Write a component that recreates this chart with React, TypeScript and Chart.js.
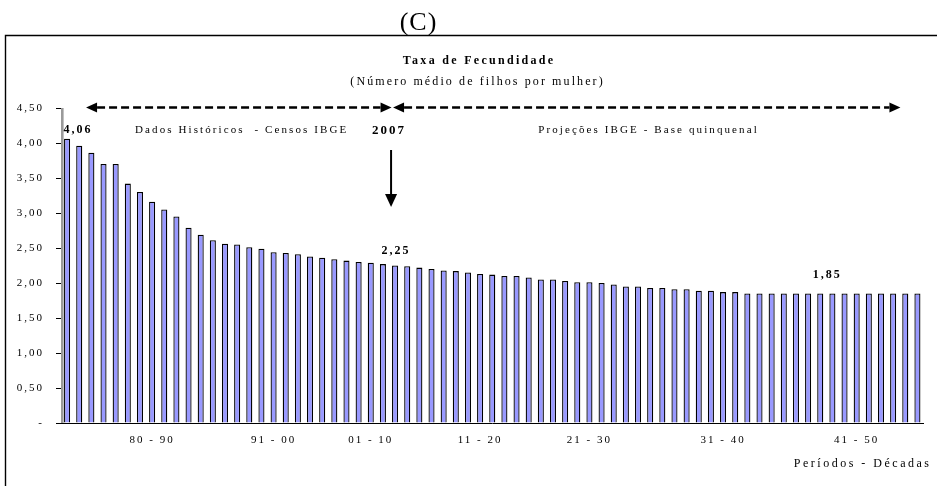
import React, { useEffect, useRef } from 'react';
import { Chart, registerables } from 'chart.js';

Chart.register(...registerables);

const years = [
  1980, 1981, 1982, 1983, 1984, 1985, 1986, 1987, 1988, 1989,
  1990, 1991, 1992, 1993, 1994, 1995, 1996, 1997, 1998, 1999,
  2000, 2001, 2002, 2003, 2004, 2005, 2006, 2007, 2008, 2009,
  2010, 2011, 2012, 2013, 2014, 2015, 2016, 2017, 2018, 2019,
  2020, 2021, 2022, 2023, 2024, 2025, 2026, 2027, 2028, 2029,
  2030, 2031, 2032, 2033, 2034, 2035, 2036, 2037, 2038, 2039,
  2040, 2041, 2042, 2043, 2044, 2045, 2046, 2047, 2048, 2049,
  2050,
];

const fertility = [
  4.06, 3.96, 3.86, 3.70, 3.70, 3.42, 3.30, 3.16, 3.05, 2.95,
  2.79, 2.69, 2.61, 2.56, 2.55, 2.51, 2.49, 2.44, 2.43, 2.41,
  2.38, 2.36, 2.34, 2.32, 2.30, 2.29, 2.27, 2.25, 2.24, 2.22,
  2.20, 2.18, 2.17, 2.15, 2.13, 2.12, 2.10, 2.10, 2.08, 2.05,
  2.05, 2.03, 2.01, 2.01, 2.00, 1.98, 1.95, 1.95, 1.93, 1.93,
  1.91, 1.91, 1.89, 1.89, 1.87, 1.87, 1.85, 1.85, 1.85, 1.85,
  1.85, 1.85, 1.85, 1.85, 1.85, 1.85, 1.85, 1.85, 1.85, 1.85,
  1.85,
];

const yTickLabels = ['-', '0,50', '1,00', '1,50', '2,00', '2,50', '3,00', '3,50', '4,00', '4,50'];

const decadeLabels = ['80 - 90', '91 - 00', '01 - 10', '11 - 20', '21 - 30', '31 - 40', '41 - 50'];
const decadeLabelYears = [1987, 1997, 2005, 2014, 2023, 2034, 2045];

const highlightYears = [1980, 2007, 2042];
const highlightTexts = ['4,06', '2,25', '1,85'];

const SERIF = '"Liberation Serif", "DejaVu Serif", serif';

function drawText(
  ctx: CanvasRenderingContext2D,
  text: string,
  x: number,
  y: number,
  font: string,
  spacing: number,
  align: CanvasTextAlign = 'center',
) {
  ctx.save();
  ctx.font = font;
  (ctx as any).letterSpacing = spacing + 'px';
  ctx.fillStyle = '#000';
  ctx.textBaseline = 'middle';
  const w = ctx.measureText(text).width;
  let sx = x;
  if (align === 'center') sx = x - w / 2 + spacing / 2;
  else if (align === 'right') sx = x - w + spacing;
  ctx.textAlign = 'left';
  ctx.fillText(text, sx, y);
  ctx.restore();
}

function dashedArrow(ctx: CanvasRenderingContext2D, x1: number, x2: number, y: number) {
  const head = 11;
  const half = 5;
  ctx.save();
  ctx.strokeStyle = '#000';
  ctx.fillStyle = '#000';
  ctx.lineWidth = 2.6;
  ctx.setLineDash([8, 4]);
  ctx.beginPath();
  ctx.moveTo(x1 + head, y);
  ctx.lineTo(x2 - head, y);
  ctx.stroke();
  ctx.setLineDash([]);
  ctx.beginPath();
  ctx.moveTo(x1, y);
  ctx.lineTo(x1 + head, y - half);
  ctx.lineTo(x1 + head, y + half);
  ctx.closePath();
  ctx.fill();
  ctx.beginPath();
  ctx.moveTo(x2, y);
  ctx.lineTo(x2 - head, y - half);
  ctx.lineTo(x2 - head, y + half);
  ctx.closePath();
  ctx.fill();
  ctx.restore();
}

const decorPlugin = {
  id: 'decor',
  beforeDraw(chart: any) {
    const ctx = chart.ctx as CanvasRenderingContext2D;
    (ctx as any).letterSpacing = '2px';
  },
  beforeDatasetsDraw(chart: any) {
    const ctx = chart.ctx as CanvasRenderingContext2D;
    const a = chart.chartArea;
    ctx.save();
    ctx.fillStyle = '#9a9a9a';
    ctx.fillRect(a.left, a.top, 2.6, a.bottom - a.top);
    ctx.restore();
  },
  afterDraw(chart: any) {
    const ctx = chart.ctx as CanvasRenderingContext2D;
    const xs = chart.scales.x;
    const ys = chart.scales.y;
    const meta = chart.getDatasetMeta(0);

    // outer heading and frame
    drawText(ctx, '(C)', 418, 23, '26px ' + SERIF, 1);
    ctx.save();
    ctx.strokeStyle = '#000';
    ctx.lineWidth = 1.4;
    ctx.beginPath();
    ctx.moveTo(5.5, 486);
    ctx.lineTo(5.5, 35.5);
    ctx.lineTo(937, 35.5);
    ctx.stroke();
    ctx.restore();

    drawText(ctx, 'Taxa de Fecundidade', 478, 61, 'bold 12px ' + SERIF, 2.3);
    drawText(ctx, '(Número médio de filhos por mulher)', 476.5, 82, '12px ' + SERIF, 2.1);

    const yTop = ys.getPixelForValue(4.5) - 0.5;
    const x2007 = xs.getPixelForValue(years.indexOf(2007)) - 4;
    dashedArrow(ctx, xs.getPixelForValue(0) + 19, x2007 + 0.5, yTop);
    dashedArrow(ctx, x2007 + 2, xs.getPixelForValue(years.length - 1) - 17, yTop);

    drawText(ctx, 'Dados Históricos  - Censos IBGE', 135, 130, '11px ' + SERIF, 2.1, 'left');
    drawText(ctx, '2007', 388, 131, 'bold 13px ' + SERIF, 2);
    drawText(ctx, 'Projeções IBGE - Base quinquenal', 647.5, 130, '11px ' + SERIF, 2.1);

    // vertical arrow to 2007
    ctx.save();
    ctx.strokeStyle = '#000';
    ctx.fillStyle = '#000';
    ctx.lineWidth = 2;
    ctx.beginPath();
    ctx.moveTo(x2007, 150);
    ctx.lineTo(x2007, 196);
    ctx.stroke();
    ctx.beginPath();
    ctx.moveTo(x2007, 207);
    ctx.lineTo(x2007 - 6, 194);
    ctx.lineTo(x2007 + 6, 194);
    ctx.closePath();
    ctx.fill();
    ctx.restore();

    // highlighted values
    const dxs = [10, 0, 6];
    const dys = [-9, -15, -18.5];
    highlightYears.forEach((yr, k) => {
      const el = meta.data[years.indexOf(yr)];
      drawText(ctx, highlightTexts[k], el.x + dxs[k], el.y + dys[k], 'bold 12px ' + SERIF, 2);
    });

    drawText(ctx, 'Períodos - Décadas', 929, 464, '12px ' + SERIF, 2.5, 'right');
  },
};

export default function App() {
  const ref = useRef<HTMLCanvasElement | null>(null);

  useEffect(() => {
    document.body.style.margin = '0';
    const canvas = ref.current;
    if (!canvas) return;
    const chart = new Chart(canvas, {
      type: 'bar',
      data: {
        labels: years.map(String),
        datasets: [
          {
            data: fertility,
            backgroundColor: '#9999ff',
            borderColor: '#000',
            borderWidth: 1.3,
            barPercentage: 0.5,
            categoryPercentage: 1,
          },
        ],
      },
      options: {
        animation: false,
        responsive: true,
        maintainAspectRatio: false,
        devicePixelRatio: 1,
        layout: { padding: { left: 0, top: 108, right: 13.5, bottom: 0 } },
        plugins: {
          legend: { display: false },
          tooltip: { enabled: false },
          title: { display: false },
        },
        scales: {
          x: {
            offset: true,
            grid: { display: false, drawTicks: false },
            border: { display: true, color: '#000', width: 1 },
            ticks: {
              autoSkip: false,
              maxRotation: 0,
              minRotation: 0,
              padding: 11,
              color: '#000',
              font: { family: SERIF, size: 11 },
              callback: (_v: any, i: number) => {
                const k = decadeLabelYears.indexOf(years[i]);
                return k >= 0 ? decadeLabels[k] : '';
              },
            },
            afterFit: (s: any) => {
              s.height = 63;
            },
          },
          y: {
            min: 0,
            max: 4.5,
            grid: {
              display: true,
              drawOnChartArea: false,
              drawTicks: true,
              tickLength: 5,
              color: '#000',
            },
            border: { display: true, color: '#000', width: 1 },
            ticks: {
              stepSize: 0.5,
              padding: 12,
              color: '#000',
              font: { family: SERIF, size: 11 },
              callback: (_v: any, i: number) => yTickLabels[i],
            },
            afterFit: (s: any) => {
              s.width = 61;
            },
          },
        },
      },
      plugins: [decorPlugin],
    });
    return () => chart.destroy();
  }, []);

  return (
    <div style={{ width: 937, height: 486, position: 'relative', overflow: 'hidden', background: '#fff' }}>
      <canvas ref={ref} />
    </div>
  );
}
